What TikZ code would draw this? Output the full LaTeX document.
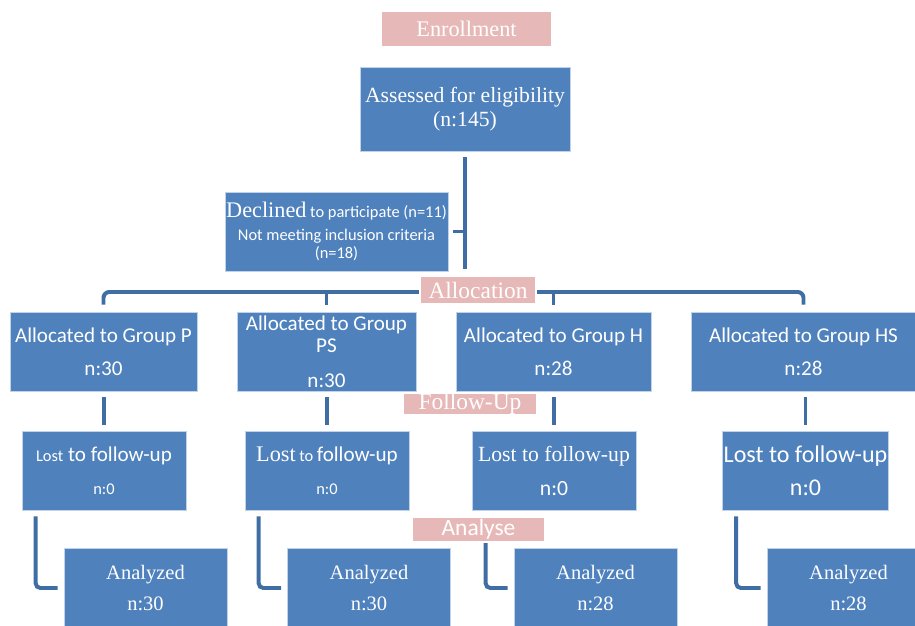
\documentclass[tikz,border=0pt]{standalone}
\usepackage{fontspec}
\setmainfont{Liberation Serif}
\newfontfamily\calibri{Carlito}
\usetikzlibrary{calc,backgrounds}

\definecolor{boxblue}{HTML}{4F81BD}
\definecolor{linkblue}{HTML}{3F6EA5}
\definecolor{stagepink}{HTML}{E6B9B8}

\newcommand{\pxu}{0.03cm}
\newcommand{\sml}[1]{{\calibri\fontsize{14}{16}\selectfont #1}}
\newcommand{\srfbig}[1]{{\rmfamily\fontsize{19}{22}\selectfont #1}}

\tikzset{
  box/.style={fill=boxblue, draw=white!65!boxblue, line width=0.6pt, text=white,
    align=center, inner sep=1pt, minimum height=79*\pxu},
  sansbox/.style={box, font=\calibri\fontsize{18}{22}\selectfont},
  serifbox/.style={box, font=\fontsize{18}{22}\selectfont},
  stage/.style={fill=stagepink, draw=white, line width=1.5pt, text=white,
    inner sep=0pt, align=center},
  link/.style={draw=linkblue, line width=3.4pt},
}

\begin{document}
\begin{tikzpicture}[x=0.03cm, y=-0.03cm]
  \useasboundingbox (0,0) rectangle (915,626);
  \clip (0,0) rectangle (915,626);

  % stage labels
  \node[stage, minimum width=171*\pxu, minimum height=36*\pxu, font=\fontsize{19}{22}\selectfont] (enroll) at (466.5,29) {Enrollment};
  \node[stage, minimum width=116*\pxu, minimum height=28*\pxu, font=\fontsize{20}{22}\selectfont] (alloclbl) at (478,290) {Allocation};
  \node[stage, minimum width=134*\pxu, minimum height=22*\pxu, font=\fontsize{20}{22}\selectfont] (followlbl) at (470,404) {Follow-Up};
  \node[stage, minimum width=133*\pxu, minimum height=25*\pxu, font=\calibri\fontsize{20}{22}\selectfont] (analyselbl) at (478.5,529.5) {Analyse};

  % screening
  \node[serifbox, minimum width=210*\pxu, minimum height=84*\pxu, font=\fontsize{18.5}{20.5}\selectfont] (assess) at (465,109) {Assessed for eligibility\\(n:145)};
  \node[box, minimum width=217*\pxu, font=\calibri\fontsize{14}{15.5}\selectfont] (declined) at (336.5,231.5)
    {\srfbig{Declined} to participate (n=11)\\[4pt]
     Not meeting inclusion criteria\\ (n=18)};

  % groups
  \node[sansbox, minimum width=187*\pxu] (gP) at (103.5,351.5) {Allocated to Group P\\[6pt] n:30};
  \node[sansbox, minimum width=179*\pxu, font=\calibri\fontsize{18}{19}\selectfont] (gPS) at (326.5,351.5) {Allocated to Group\\ PS\\[11pt] n:30};
  \node[sansbox, minimum width=195*\pxu] (gH) at (553.5,351.5) {Allocated to Group H\\[6pt] n:28};
  \node[sansbox, minimum width=225*\pxu] (gHS) at (803.5,351.5) {Allocated to Group HS\\[6pt] n:28};

  % follow-up
  \node[sansbox, minimum width=164*\pxu] (lostP) at (104,470.5) {\sml{Lost} to follow-up\\[6pt] \sml{n:0}};
  \node[sansbox, minimum width=164*\pxu] (lostPS) at (327,470.5) {\srfbig{Lost}\,\sml{to}\,follow-up\\[6pt] \sml{n:0}};
  \node[serifbox, minimum width=164*\pxu, font=\fontsize{18.5}{22}\selectfont] (lostH) at (554,470.5) {Lost to follow-up\\[7pt] {\calibri n:0}};
  \node[sansbox, minimum width=164*\pxu, font=\calibri\fontsize{20.5}{23}\selectfont] (lostHS) at (805.5,470.5) {Lost to follow-up\\[5pt] n:0};

  % analysis
  \node[serifbox, minimum width=163*\pxu, minimum height=80*\pxu, font=\fontsize{17.5}{21}\selectfont] (anP) at (145.5,588) {Analyzed\\[5pt] n:30};
  \node[serifbox, minimum width=163*\pxu, minimum height=80*\pxu, font=\fontsize{17.5}{21}\selectfont] (anPS) at (369,588) {Analyzed\\[5pt] n:30};
  \node[serifbox, minimum width=163*\pxu, minimum height=80*\pxu, font=\fontsize{17.5}{21}\selectfont] (anH) at (595.5,588) {Analyzed\\[5pt] n:28};
  \node[serifbox, minimum width=163*\pxu, minimum height=80*\pxu, font=\fontsize{17.5}{21}\selectfont] (anHS) at (848.5,588) {Analyzed\\[5pt] n:28};

  \begin{scope}[on background layer]
    \draw[link] ($(assess.south)+(0,6)$) -- ($(assess.south |- alloclbl.north)+(0,-6)$);
    \draw[link] ($(declined.east)+(5,0)$) -- (declined.east -| assess.south);

    \coordinate (bar) at ($(alloclbl.center)+(0,2)$);
    \draw[link, rounded corners=5] ($(gP.north)+(0,-7)$) |- (bar) -| ($(gHS.north)+(0,-7)$);
    \draw[link] ($(gPS.north)+(0,-7)$) -- (gPS.north |- bar);
    \draw[link] ($(gH.north)+(0,-7)$) -- (gH.north |- bar);

    \foreach \g in {P,PS,H,HS} {
      \draw[link] ($(lost\g.north |- g\g.south)+(0,6)$) -- ($(lost\g.north)+(0,-6)$);
      \draw[link, rounded corners=4] ($(lost\g.south west)+(14,6)$) |- ($(an\g.west)+(-6,0)$);
    }
  \end{scope}
\end{tikzpicture}
\end{document}
